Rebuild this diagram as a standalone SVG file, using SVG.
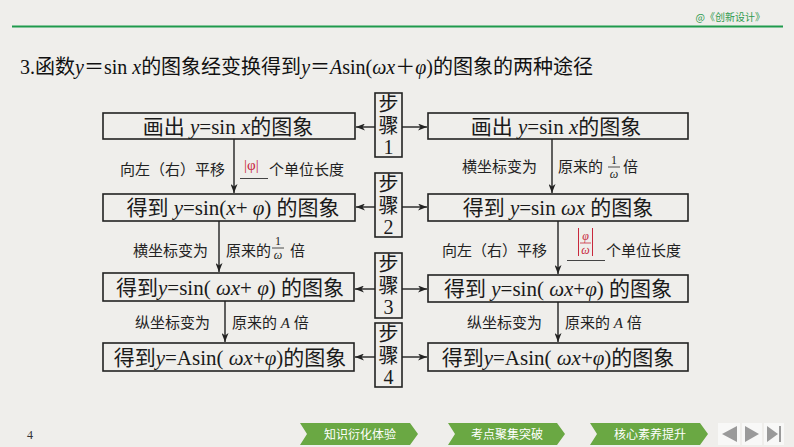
<svg xmlns="http://www.w3.org/2000/svg" width="794" height="447" viewBox="0 0 794 447">
<style>
.bg{fill:#efeeeb}
.box{fill:none;stroke:#222;stroke-width:1.6}
.ln{fill:none;stroke:#222;stroke-width:1.4}
.bt{font-family:"Liberation Serif","Noto Sans CJK SC",serif;font-size:21px;fill:#1a1a1a}
.st{font-family:"Liberation Serif","Noto Sans CJK SC",serif;font-size:20px;fill:#1a1a1a;text-anchor:middle}
.lb{font-family:"Liberation Serif","Noto Sans CJK SC",serif;font-size:15px;fill:#222}
.fr{font-family:"Liberation Serif","Noto Sans CJK SC",serif;font-size:12px;fill:#222;text-anchor:middle}
.red{fill:#c8283c}
.i{font-style:italic}
.title{font-family:"Liberation Serif","Noto Sans CJK SC",serif;font-size:20px;fill:#111}
.chev{fill:#6aa843}
.ct{font-family:"Noto Sans CJK SC",sans-serif;font-size:12px;fill:#fff;text-anchor:middle}
.nav{fill:#9a9a9a}
</style>
<defs>
<marker id="ah" markerWidth="9" markerHeight="7" refX="9" refY="3.5" orient="auto" markerUnits="userSpaceOnUse">
<path d="M0,0 L9,3.5 L0,7 L2.5,3.5 z" fill="#222"/>
</marker>
</defs>
<rect class="bg" x="0" y="0" width="794" height="447"/>
<g id="header">
<text x="765" y="21" text-anchor="end" font-family="Noto Sans CJK SC,sans-serif" font-size="10" fill="#2e9a4e">@《创新设计》</text>
<rect x="12" y="25.5" width="771" height="2" fill="#1f9a4c"/>
<text class="title" x="20" y="74">3.函数<tspan class="i">y</tspan>＝sin <tspan class="i">x</tspan>的图象经变换得到<tspan class="i">y</tspan>＝<tspan class="i">A</tspan>sin(<tspan class="i">ωx</tspan>＋<tspan class="i">φ</tspan>)的图象的两种途径</text>
</g>
<g id="L1"><rect class="box" x="103" y="113" width="252" height="26"/><text class="bt" x="228" y="133.5" text-anchor="middle">画出 <tspan class="i">y</tspan>=sin <tspan class="i">x</tspan>的图象</text></g>
<g id="L2"><rect class="box" x="103" y="194" width="252" height="27"/><text class="bt" x="233" y="215" text-anchor="middle">得到 <tspan class="i">y</tspan>=sin(<tspan class="i">x</tspan>+ <tspan class="i">φ</tspan>) 的图象</text></g>
<g id="L3"><rect class="box" x="103" y="273" width="251" height="28"/><text class="bt" x="230" y="294.5" text-anchor="middle">得到<tspan class="i">y</tspan>=sin( <tspan class="i">ωx</tspan>+ <tspan class="i">φ</tspan>) 的图象</text></g>
<g id="L4"><rect class="box" x="103" y="343" width="251" height="28"/><text class="bt" x="230" y="364.5" text-anchor="middle">得到<tspan class="i">y</tspan>=Asin( <tspan class="i">ωx</tspan>+<tspan class="i">φ</tspan>)的图象</text></g>
<g id="R1"><rect class="box" x="428" y="113" width="260" height="26"/><text class="bt" x="556" y="133.5" text-anchor="middle">画出 <tspan class="i">y</tspan>=sin <tspan class="i">x</tspan>的图象</text></g>
<g id="R2"><rect class="box" x="428" y="194" width="260" height="27"/><text class="bt" x="558" y="215" text-anchor="middle">得到 <tspan class="i">y</tspan>=sin <tspan class="i">ωx</tspan> 的图象</text></g>
<g id="R3"><rect class="box" x="428" y="275" width="260" height="27"/><text class="bt" x="558" y="296" text-anchor="middle">得到 <tspan class="i">y</tspan>=sin( <tspan class="i">ωx</tspan>+<tspan class="i">φ</tspan>) 的图象</text></g>
<g id="R4"><rect class="box" x="428" y="343" width="260" height="28"/><text class="bt" x="558" y="364.5" text-anchor="middle">得到<tspan class="i">y</tspan>=Asin( <tspan class="i">ωx</tspan>+<tspan class="i">φ</tspan>)的图象</text></g>
<g id="S1"><rect class="box" x="375" y="93" width="27" height="64"/><text class="st" x="388.5" y="111">步</text><text class="st" x="388.5" y="133">骤</text><text class="st" x="388.5" y="154">1</text></g>
<g id="S2"><rect class="box" x="375" y="173" width="27" height="64"/><text class="st" x="388.5" y="191">步</text><text class="st" x="388.5" y="213">骤</text><text class="st" x="388.5" y="234">2</text></g>
<g id="S3"><rect class="box" x="375" y="253" width="27" height="65"/><text class="st" x="388.5" y="271">步</text><text class="st" x="388.5" y="293">骤</text><text class="st" x="388.5" y="314">3</text></g>
<g id="S4"><rect class="box" x="375" y="323" width="27" height="64"/><text class="st" x="388.5" y="341">步</text><text class="st" x="388.5" y="363">骤</text><text class="st" x="388.5" y="384">4</text></g>
<g id="connectors">
<line class="ln" x1="375" y1="127" x2="356" y2="127" marker-end="url(#ah)"/>
<line class="ln" x1="402" y1="127" x2="427" y2="127" marker-end="url(#ah)"/>
<line class="ln" x1="375" y1="207" x2="356" y2="207" marker-end="url(#ah)"/>
<line class="ln" x1="402" y1="207" x2="427" y2="207" marker-end="url(#ah)"/>
<line class="ln" x1="375" y1="289" x2="355" y2="289" marker-end="url(#ah)"/>
<line class="ln" x1="402" y1="289" x2="427" y2="289" marker-end="url(#ah)"/>
<line class="ln" x1="375" y1="357" x2="355" y2="357" marker-end="url(#ah)"/>
<line class="ln" x1="402" y1="357" x2="427" y2="357" marker-end="url(#ah)"/>
<line class="ln" x1="234" y1="139" x2="234" y2="193" marker-end="url(#ah)"/>
<line class="ln" x1="219" y1="221" x2="219" y2="272" marker-end="url(#ah)"/>
<line class="ln" x1="225" y1="301" x2="225" y2="342" marker-end="url(#ah)"/>
<line class="ln" x1="552" y1="139" x2="552" y2="193" marker-end="url(#ah)"/>
<line class="ln" x1="558" y1="221" x2="558" y2="274" marker-end="url(#ah)"/>
<line class="ln" x1="558" y1="302" x2="558" y2="342" marker-end="url(#ah)"/>
</g>
<g id="labels">
<text class="lb" x="120" y="175">向左（右）平移</text>
<text class="lb red" x="244" y="170" font-size="14">|φ|</text>
<line x1="240" y1="178.5" x2="268" y2="178.5" stroke="#444" stroke-width="1"/>
<text class="lb" x="269" y="175">个单位长度</text>
<text class="lb" x="133" y="256">横坐标变为</text>
<text class="lb" x="226" y="256">原来的</text>
<text class="fr" x="278" y="245">1</text>
<line x1="272" y1="248" x2="284" y2="248" stroke="#222" stroke-width="0.8"/>
<text class="fr i" x="278" y="259">ω</text>
<text class="lb" x="290" y="256">倍</text>
<text class="lb" x="135" y="328">纵坐标变为</text>
<text class="lb" x="232" y="328">原来的 <tspan class="i">A</tspan> 倍</text>
<text class="lb" x="462" y="172">横坐标变为</text>
<text class="lb" x="558" y="172">原来的</text>
<text class="fr" x="614" y="164">1</text>
<line x1="608" y1="167" x2="620" y2="167" stroke="#222" stroke-width="0.8"/>
<text class="fr i" x="614" y="178">ω</text>
<text class="lb" x="623" y="172">倍</text>
<text class="lb" x="442" y="256">向左（右）平移</text>
<line x1="578.5" y1="228" x2="578.5" y2="256" stroke="#c8283c" stroke-width="1"/>
<line x1="592.5" y1="228" x2="592.5" y2="256" stroke="#c8283c" stroke-width="1"/>
<text class="fr red i" x="585.5" y="240">φ</text>
<line x1="580" y1="243" x2="591" y2="243" stroke="#c8283c" stroke-width="0.8"/>
<text class="fr red i" x="585.5" y="254">ω</text>
<line x1="567" y1="260.5" x2="605" y2="260.5" stroke="#444" stroke-width="1"/>
<text class="lb" x="606" y="256">个单位长度</text>
<text class="lb" x="467" y="328">纵坐标变为</text>
<text class="lb" x="565" y="328">原来的 <tspan class="i">A</tspan> 倍</text>
</g>
<g id="footer">
<text x="27" y="439" font-family="Liberation Serif,serif" font-size="12" fill="#333">4</text>
<polygon class="chev" points="300,423 410,423 418,434 410,445 300,445 307,434"/>
<text class="ct" x="360" y="438.5">知识衍化体验</text>
<polygon class="chev" points="448,423 557,423 565,434 557,445 448,445 455,434"/>
<text class="ct" x="507" y="438.5">考点聚集突破</text>
<polygon class="chev" points="590,423 700,423 708,434 700,445 590,445 597,434"/>
<text class="ct" x="650" y="438.5">核心素养提升</text>
<rect x="718" y="423" width="22" height="22" fill="#f8f8f7"/>
<rect x="742" y="423" width="20" height="22" fill="#f8f8f7"/>
<rect x="764" y="423" width="20" height="22" fill="#f8f8f7"/>
<polygon class="nav" points="737,426 737,442 722,434"/>
<polygon class="nav" points="745,426 745,442 759,434"/>
<polygon class="nav" points="767,426 767,442 778,434"/>
<rect class="nav" x="779" y="426" width="2" height="16"/>
</g>
</svg>
